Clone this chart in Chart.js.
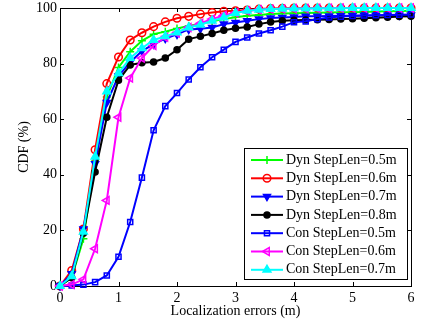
<!DOCTYPE html>
<html>
<head>
<meta charset="utf-8">
<title>CDF of localization errors</title>
<script src="https://cdn.jsdelivr.net/npm/chart.js@4/dist/chart.umd.min.js"></script>
<style>
  html, body { margin: 0; padding: 0; background: #fff; }
</style>
</head>
<body>
<canvas id="cdfChart" width="422" height="324"></canvas>
<script>
// Localization error (m), one sample every 0.2 m
const errors = [0, 0.2, 0.4, 0.6, 0.8, 1.0, 1.2, 1.4, 1.6, 1.8, 2.0, 2.2, 2.4, 2.6, 2.8, 3.0,
  3.2, 3.4, 3.6, 3.8, 4.0, 4.2, 4.4, 4.6, 4.8, 5.0, 5.2, 5.4, 5.6, 5.8, 6.0];

// CDF values (%)
const dynStep05 = [0, 3, 17, 45, 68, 78.6, 84.3, 88.2, 90.6, 91.5, 92.6, 93.5, 94.3, 95.2, 96, 96.7,
  97.2, 97.5, 97.8, 98, 98.1, 98.2, 98.3, 98.4, 98.5, 98.5, 98.6, 98.7, 98.8, 98.9, 99];
const dynStep06 = [0, 5.6, 20.5, 49, 72.8, 82.4, 88.5, 91.1, 93.3, 95, 96.3, 97, 97.8, 98.4, 98.8, 99,
  99.3, 99.6, 99.8, 99.9, 100, 100, 100, 100, 100, 100, 100, 100, 100, 100, 100];
const dynStep07 = [0, 4.4, 20.5, 44, 66, 75.5, 80.5, 84.5, 87, 89, 90.5, 92.3, 92.5, 93, 94.2, 94.8,
  95.4, 96, 96.4, 96.6, 96.8, 97, 97, 97.1, 97.2, 97.2, 97.3, 97.3, 97.4, 97.4, 97.5];
const dynStep08 = [0, 3, 19, 41, 60.7, 74, 79.5, 80.3, 80.6, 82, 85, 88.8, 89.8, 90.8, 92, 92.7,
  93.2, 94.2, 95, 95.4, 95.6, 95.7, 95.8, 95.9, 96, 96.1, 96.3, 96.5, 96.7, 96.9, 97];
const conStep05 = [0, 0.2, 0.5, 1.4, 3.8, 10.5, 23, 39, 56, 64.7, 69.4, 74.3, 78.7, 82.3, 85, 87.8,
  89.4, 90.8, 92, 93.3, 94.9, 95.2, 96, 96.6, 96.9, 97.1, 97.3, 97.4, 97.5, 97.6, 97.7];
const conStep06 = [0, 0.5, 2.4, 13.4, 30.8, 60.7, 74.8, 82, 86.5, 89.5, 91, 93, 94.5, 96, 97.3, 98.3,
  99, 99.4, 99.6, 99.7, 99.8, 99.8, 99.9, 99.9, 100, 100, 100, 100, 100, 100, 100];
const conStep07 = [0, 3.5, 19.5, 46.5, 70, 76.5, 82, 85.5, 88.5, 89.8, 91.2, 93, 94, 95.4, 96.6, 98.2,
  99, 99.4, 99.6, 99.7, 99.8, 99.8, 99.9, 99.9, 99.9, 100, 100, 100, 100, 100, 100];

const seriesLabels = ['Dyn StepLen=0.5m', 'Dyn StepLen=0.6m', 'Dyn StepLen=0.7m', 'Dyn StepLen=0.8m',
  'Con StepLen=0.5m', 'Con StepLen=0.6m', 'Con StepLen=0.7m'];
const seriesValues = [dynStep05, dynStep06, dynStep07, dynStep08, conStep05, conStep06, conStep07];

const xTicks = [0, 1, 2, 3, 4, 5, 6];
const yTicks = [0, 20, 40, 60, 80, 100];

const FONT = '"Liberation Serif", "Times New Roman", serif';
const NONE = 'rgba(0,0,0,0)';

// marker look per series (matlab-like)
const styles = [
  { color: '#00ff00', pointStyle: 'cross', rotation: 0, radius: 4, fill: NONE },
  { color: '#ff0000', pointStyle: 'circle', rotation: 0, radius: 3.8, fill: NONE },
  { color: '#0000ff', pointStyle: 'triangle', rotation: 180, radius: 4, fill: '#0000ff' },
  { color: '#000000', pointStyle: 'circle', rotation: 0, radius: 3, fill: '#000000' },
  { color: '#0000ff', pointStyle: 'rect', rotation: 0, radius: 3.6, fill: NONE },
  { color: '#ff00ff', pointStyle: 'triangle', rotation: 270, radius: 4.5, fill: NONE },
  { color: '#00ffff', pointStyle: 'triangle', rotation: 0, radius: 4.5, fill: '#00ffff' }
];

const datasets = seriesValues.map((vals, i) => ({
  label: seriesLabels[i],
  data: errors.map((x, j) => ({ x: x, y: vals[j] })),
  borderColor: styles[i].color,
  backgroundColor: styles[i].color,
  borderWidth: 2,
  pointStyle: styles[i].pointStyle,
  pointRotation: styles[i].rotation,
  pointRadius: styles[i].radius,
  pointBorderWidth: 1.5,
  pointBorderColor: styles[i].color,
  pointBackgroundColor: styles[i].fill,
  tension: 0,
  clip: false,
  order: seriesValues.length - i   // later series drawn on top
}));

// box around the axes with inward ticks on all four sides
const frameTicks = {
  id: 'frameTicks',
  beforeDatasetsDraw(chart) {
    const { ctx, chartArea: a, scales } = chart;
    const len = 4;
    ctx.save();
    ctx.strokeStyle = '#000';
    ctx.lineWidth = 1;
    ctx.strokeRect(Math.round(a.left) + 0.5, Math.round(a.top) + 0.5,
      Math.round(a.right - a.left), Math.round(a.bottom - a.top));
    ctx.beginPath();
    xTicks.forEach(v => {
      const px = Math.round(scales.x.getPixelForValue(v)) + 0.5;
      ctx.moveTo(px, a.bottom); ctx.lineTo(px, a.bottom - len);
      ctx.moveTo(px, a.top); ctx.lineTo(px, a.top + len);
    });
    yTicks.forEach(v => {
      const py = Math.round(scales.y.getPixelForValue(v)) + 0.5;
      ctx.moveTo(a.left, py); ctx.lineTo(a.left + len, py);
      ctx.moveTo(a.right, py); ctx.lineTo(a.right - len, py);
    });
    ctx.stroke();
    ctx.restore();
  }
};

// legend box in the lower right corner of the axes
const boxLegend = {
  id: 'boxLegend',
  afterDatasetsDraw(chart) {
    const { ctx, chartArea: a } = chart;
    const w = 163, h = 131, rowH = 18.3;
    const x0 = Math.round(a.right - 4 - w), y0 = Math.round(a.bottom - 7 - h);
    ctx.save();
    ctx.fillStyle = '#fff';
    ctx.fillRect(x0, y0, w, h);
    ctx.strokeStyle = '#000';
    ctx.lineWidth = 1;
    ctx.strokeRect(x0 + 0.5, y0 + 0.5, w, h);
    ctx.font = '14px ' + FONT;
    ctx.textBaseline = 'middle';
    chart.data.datasets.forEach((ds, i) => {
      const y = y0 + 12 + i * rowH;
      ctx.strokeStyle = ds.borderColor;
      ctx.lineWidth = 2;
      ctx.beginPath();
      ctx.moveTo(x0 + 7, y);
      ctx.lineTo(x0 + 39, y);
      ctx.stroke();
      ctx.fillStyle = ds.pointBackgroundColor;
      ctx.lineWidth = ds.pointBorderWidth;
      Chart.helpers.drawPoint(ctx, {
        pointStyle: ds.pointStyle,
        rotation: ds.pointRotation,
        radius: ds.pointRadius,
        borderWidth: ds.pointBorderWidth
      }, x0 + 23, y);
      ctx.fillStyle = '#000';
      ctx.fillText(ds.label, x0 + 42, y);
    });
    ctx.restore();
  }
};

new Chart(document.getElementById('cdfChart').getContext('2d'), {
  type: 'line',
  data: { datasets: datasets },
  options: {
    responsive: false,
    animation: false,
    events: [],
    layout: { padding: { top: 8, right: 11, left: 0, bottom: 0 } },
    plugins: {
      legend: { display: false },
      tooltip: { enabled: false }
    },
    scales: {
      x: {
        type: 'linear',
        min: 0,
        max: 6,
        afterFit: s => { s.height = 38; s.paddingLeft = 0; s.paddingRight = 0; },
        afterBuildTicks: s => { s.ticks = xTicks.map(v => ({ value: v })); },
        grid: { display: false, drawTicks: false },
        border: { display: false },
        ticks: { padding: 4, color: '#000', maxRotation: 0, font: { family: FONT, size: 14 } },
        title: {
          display: true,
          text: 'Localization errors (m)',
          color: '#000',
          font: { family: FONT, size: 14 },
          padding: { top: 0, bottom: 4 }
        }
      },
      y: {
        min: 0,
        max: 100,
        afterFit: s => { s.width = 60; s.paddingTop = 0; s.paddingBottom = 0; },
        afterBuildTicks: s => { s.ticks = yTicks.map(v => ({ value: v })); },
        grid: { display: false, drawTicks: false },
        border: { display: false },
        ticks: { padding: 3, color: '#000', font: { family: FONT, size: 14 } },
        title: {
          display: true,
          text: 'CDF (%)',
          color: '#000',
          font: { family: FONT, size: 14 },
          padding: { top: 16, bottom: 0 }
        }
      }
    }
  },
  plugins: [frameTicks, boxLegend]
});
</script>
</body>
</html>
